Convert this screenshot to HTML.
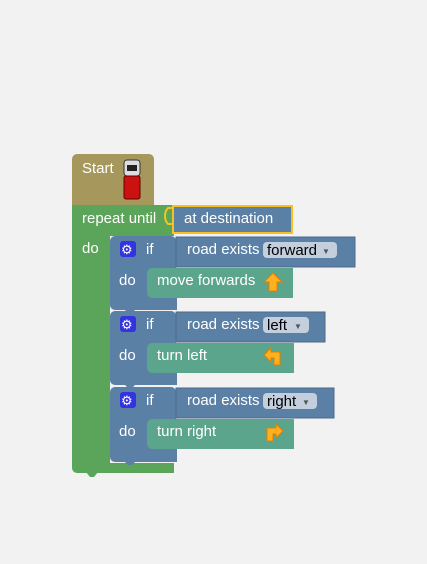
<!DOCTYPE html>
<html><head><meta charset="utf-8"><style>
html,body{margin:0;padding:0;background:#f2f2f2;}
svg{display:block}
text{font-family:"Liberation Sans",sans-serif;font-size:15px;fill:#fff}
.dd{fill:#000}
</style></head><body>
<svg width="427" height="564" viewBox="0 0 427 564">
<!-- Start block -->
<rect x="72" y="154" width="82" height="52" rx="5" fill="#a6985c"/>
<rect x="72" y="180" width="82" height="26" fill="#a6985c"/>
<text x="82" y="173">Start</text>
<!-- car -->
<rect x="124" y="160" width="16" height="16" rx="3" fill="#ddd" stroke="#333"/>
<rect x="127" y="165" width="10" height="6" fill="#222"/>
<rect x="124" y="176" width="16" height="23" rx="2" fill="#cc1111" stroke="#600"/>
<!-- repeat block -->
<rect x="72" y="205" width="102" height="31" fill="#5ba55b"/>
<rect x="72" y="205" width="38" height="268" rx="5" fill="#5ba55b"/>
<rect x="72" y="205" width="38" height="20" fill="#5ba55b"/>
<rect x="100" y="463" width="74" height="10" fill="#5ba55b"/>
<path d="M86,472 l4,5 h4 l4,-5 z" fill="#5ba55b"/>
<text x="82" y="223">repeat until</text>
<text x="82" y="253">do</text>
<!-- at destination -->
<rect x="173" y="206" width="119" height="27" fill="#5b80a5" stroke="#f5c123" stroke-width="2"/>
<path d="M172,208 h-4 q-3,3 -3,8 q0,5 3,8 h4" fill="none" stroke="#f5c123" stroke-width="2"/>
<text x="184" y="223">at destination</text>

<!-- if blocks -->
<g>
<rect x="110" y="236" width="66" height="74" rx="5" fill="#5b80a5"/>
<rect x="176" y="237" width="179" height="30" fill="#5b80a5" stroke="#4a6a8a"/>
<rect x="140" y="298" width="37" height="12" fill="#5b80a5"/>
<path d="M124,309 l4,4 h4 l4,-4 z" fill="#5b80a5"/>
<rect x="120" y="241" width="16" height="16" rx="3" fill="#3333e0"/>
<text x="121" y="254" style="font-size:13px">⚙</text>
<text x="146" y="254">if</text>
<text x="119" y="285">do</text>
<text x="187" y="254">road exists</text>
<rect x="263" y="242" width="74" height="16" rx="4" fill="#c3cfdd"/>
<text x="267" y="255" class="dd">forward</text>
<text x="322" y="254" style="font-size:8px;fill:#555">▼</text>
<rect x="147" y="268" width="146" height="30" rx="5" fill="#5ba58c"/>
<rect x="160" y="268" width="133" height="30" fill="#5ba58c"/>
<text x="157" y="285">move forwards</text>
<path d="M273,273 l9,9 h-5 v9 h-8 v-9 h-5 z" fill="#ffb020" stroke="#e08000"/>
</g>
<g transform="translate(0,75)">
<rect x="110" y="236" width="66" height="74" rx="5" fill="#5b80a5"/>
<rect x="176" y="237" width="149" height="30" fill="#5b80a5" stroke="#4a6a8a"/>
<rect x="140" y="298" width="37" height="12" fill="#5b80a5"/>
<path d="M124,309 l4,4 h4 l4,-4 z" fill="#5b80a5"/>
<rect x="120" y="241" width="16" height="16" rx="3" fill="#3333e0"/>
<text x="121" y="254" style="font-size:13px">⚙</text>
<text x="146" y="254">if</text>
<text x="119" y="285">do</text>
<text x="187" y="254">road exists</text>
<rect x="263" y="242" width="46" height="16" rx="4" fill="#c3cfdd"/>
<text x="267" y="255" class="dd">left</text>
<text x="294" y="254" style="font-size:8px;fill:#555">▼</text>
<rect x="147" y="268" width="147" height="30" rx="5" fill="#5ba58c"/>
<rect x="160" y="268" width="134" height="30" fill="#5ba58c"/>
<text x="157" y="285">turn left</text>
<path d="M264,280 l7,-7 v4 h9 v13 h-6 v-7 h-3 v4 z" fill="#ffb020" stroke="#e08000"/>
</g>
<g transform="translate(0,151)">
<rect x="110" y="236" width="66" height="75" rx="5" fill="#5b80a5"/>
<rect x="176" y="237" width="158" height="30" fill="#5b80a5" stroke="#4a6a8a"/>
<rect x="140" y="298" width="37" height="13" fill="#5b80a5"/>
<path d="M124,310 l4,4 h4 l4,-4 z" fill="#5b80a5"/>
<rect x="120" y="241" width="16" height="16" rx="3" fill="#3333e0"/>
<text x="121" y="254" style="font-size:13px">⚙</text>
<text x="146" y="254">if</text>
<text x="119" y="285">do</text>
<text x="187" y="254">road exists</text>
<rect x="263" y="242" width="54" height="16" rx="4" fill="#c3cfdd"/>
<text x="267" y="255" class="dd">right</text>
<text x="302" y="254" style="font-size:8px;fill:#555">▼</text>
<rect x="147" y="268" width="147" height="30" rx="5" fill="#5ba58c"/>
<rect x="160" y="268" width="134" height="30" fill="#5ba58c"/>
<text x="157" y="285">turn right</text>
<path d="M283,280 l-7,-7 v4 h-9 v13 h6 v-7 h3 v4 z" fill="#ffb020" stroke="#e08000"/>
</g>
</svg>
</body></html>
